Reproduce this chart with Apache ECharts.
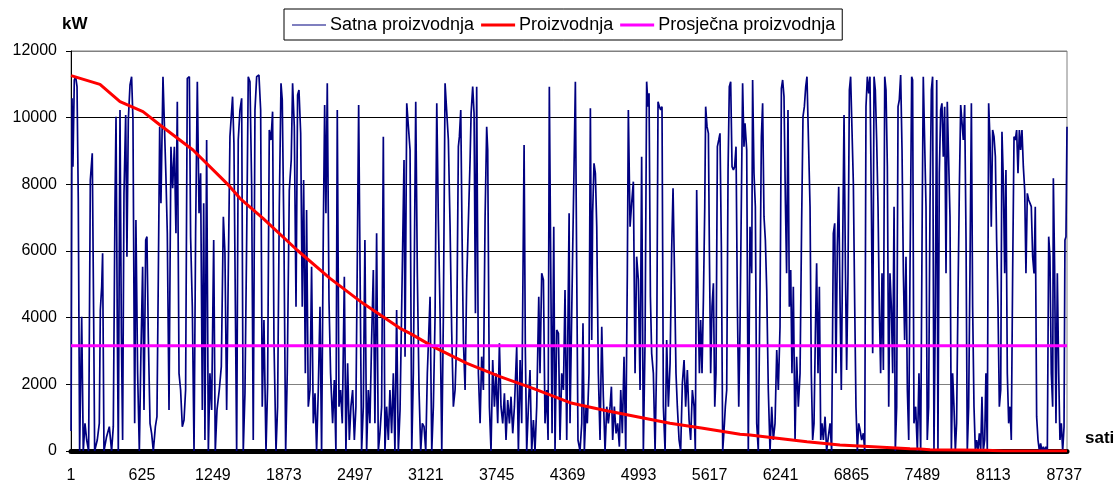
<!DOCTYPE html>
<html>
<head>
<meta charset="utf-8">
<script src="https://cdn.jsdelivr.net/npm/echarts@6/dist/echarts.min.js"></script>
<style>
html,body{margin:0;padding:0;background:#fff;}
#chart{width:1116px;height:484px;}
</style>
</head>
<body>
<div id="chart"></div>
<script>
// ---- DATA ----
const seriesNames = ['Satna proizvodnja', 'Proizvodnja', 'Prosječna proizvodnja'];
const hourTickLabels = ['1','625','1249','1873','2497','3121','3745','4369','4993','5617','6241','6865','7489','8113','8737'];

// Hourly production (kW), [hour, kW]
const satnaProizvodnja = [
[1,600],[9,10580],[17,8530],[29,11130],[41,11230],[53,10930],[64,7530],[76,0],[85,2130],[94,4030],[108,0],[123,830],[138,330],[155,0],[170,8130],[187,8930],[199,4130],[208,0],[231,330],[249,830],[258,4230],[270,4930],[278,5930],[290,0],[313,430],[337,730],[357,0],[372,730],[387,7430],[396,10030],[407,3830],[416,0],[431,10230],[443,3530],[454,330],[466,7730],[481,10080],[492,5830],[504,9930],[519,10980],[533,11230],[545,9930],[560,830],[571,6930],[586,2330],[601,0],[615,2930],[630,5530],[642,1230],[657,6330],[668,6430],[680,3430],[695,830],[709,530],[724,0],[742,730],[756,1030],[768,5230],[780,9730],[791,7430],[809,11230],[824,11230],[835,8230],[847,6530],[862,1230],[879,9130],[894,7880],[909,9130],[923,6530],[935,10480],[950,2330],[964,1830],[979,730],[994,930],[1008,1830],[1023,11180],[1041,11230],[1052,6430],[1067,4330],[1082,0],[1096,6530],[1111,11080],[1126,7130],[1140,8330],[1155,1230],[1167,7430],[1178,330],[1193,9330],[1208,0],[1222,2330],[1237,1230],[1255,6330],[1269,0],[1284,1230],[1304,1830],[1322,2530],[1340,7030],[1354,5930],[1369,1230],[1384,5530],
[1398,9430],[1421,10630],[1433,9230],[1457,0],[1471,9330],[1486,10230],[1501,10580],[1515,0],[1530,1730],[1545,6330],[1559,11230],[1574,11080],[1589,7930],[1603,330],[1618,10230],[1633,11230],[1653,11280],[1668,10230],[1682,1330],[1697,3930],[1715,0],[1729,1930],[1744,9630],[1759,9330],[1773,10180],[1785,3330],[1803,0],[1817,1330],[1832,7330],[1847,11030],[1858,10530],[1873,6330],[1888,0],[1902,2330],[1920,7830],[1937,8730],[1949,11030],[1964,9730],[1979,4330],[1993,10680],[2005,10830],[2020,9530],[2034,4330],[2046,8130],[2061,2330],[2072,7230],[2087,1330],[2102,1830],[2116,5530],[2131,830],[2146,1730],[2160,0],[2175,1830],[2190,4330],[2204,0],[2219,6530],[2231,10380],[2242,7130],[2254,11030],[2269,4530],[2283,2330],[2301,830],[2316,2130],[2330,0],[2342,10230],[2357,1330],[2371,1830],[2386,830],[2404,5230],[2418,0],[2433,2630],[2448,330],[2462,1330],[2477,1830],[2492,330],[2506,1330],[2518,5730],[2530,10380],[2541,10430],[2556,0],[2571,1330],[2585,6330],[2600,0],[2615,1830],[2629,830],[2644,3330],[2659,5430],[2673,830],[2688,6530],[2703,0],[2717,530],[2732,1330],[2747,9430],[2761,0],[2776,1330],[2791,330],[2805,1830],[2820,530],[2835,2330],[2849,0],[2864,4230],[2879,0],
[2894,1230],[2929,8730],[2938,2830],[2953,10430],[2967,10480],[2982,9030],[2997,0],[3011,2330],[3032,10480],[3046,5330],[3061,1830],[3076,0],[3090,830],[3105,730],[3120,0],[3134,2330],[3158,4630],[3173,0],[3187,1330],[3202,4030],[3217,10430],[3231,6930],[3246,4130],[3261,0],[3275,4030],[3290,11030],[3304,11030],[3319,9330],[3334,6730],[3348,3630],[3363,1330],[3378,1830],[3392,3330],[3407,9130],[3416,9430],[3428,10230],[3439,6630],[3451,3330],[3466,1830],[3480,5030],[3495,5030],[3510,8730],[3519,10130],[3533,10930],[3545,10130],[3557,4130],[3568,10930],[3583,2330],[3598,830],[3612,2830],[3627,1830],[3642,7030],[3656,9730],[3665,9030],[3680,1330],[3694,0],[3709,2730],[3724,1330],[3738,2330],[3753,830],[3768,3230],[3782,1330],[3797,830],[3812,1730],[3826,330],[3841,1530],[3856,830],[3870,1630],[3885,530],[3900,1330],[3920,3130],[3935,0],[3950,2730],[3964,830],[3985,9180],[3996,3030],[4008,0],[4023,1330],[4037,2430],[4052,0],[4067,930],[4081,0],[4096,1330],[4114,4630],[4125,2330],[4140,5330],[4155,5130],[4169,830],[4184,1830],[4196,330],[4207,10930],[4219,5730],[4231,530],[4246,6730],[4257,0],[4272,3630],[4287,3530],[4301,330],[4316,2330],[4331,1830],[4345,4830],[4360,330],[4381,7130],
[4389,830],[4412,5930],[4424,8430],[4436,11080],[4448,5330],[4459,330],[4477,0],[4492,830],[4503,3830],[4515,0],[4530,1330],[4541,830],[4556,2330],[4568,10280],[4580,3330],[4588,7130],[4600,8630],[4612,8330],[4624,6730],[4638,2330],[4653,330],[4668,3730],[4682,1630],[4697,0],[4712,1330],[4726,830],[4741,1330],[4753,1930],[4764,330],[4779,1330],[4794,530],[4808,830],[4823,130],[4835,1830],[4849,530],[4864,2830],[4879,0],[4893,5330],[4902,10230],[4917,6730],[4931,7430],[4946,8080],[4961,2330],[4975,5830],[4990,5130],[5005,1830],[5019,8830],[5034,0],[5049,3330],[5063,11080],[5075,10330],[5084,10730],[5096,4630],[5107,2930],[5122,2330],[5137,0],[5151,2730],[5163,10480],[5175,10330],[5187,10230],[5198,10330],[5210,1330],[5225,0],[5239,3330],[5254,1330],[5269,2630],[5283,6030],[5295,7880],[5307,5530],[5321,2330],[5333,1330],[5348,330],[5362,0],[5377,2030],[5392,2730],[5406,1330],[5421,2430],[5436,930],[5450,330],[5465,1830],[5480,1330],[5491,0],[5503,7830],[5515,4530],[5527,2330],[5538,3930],[5550,2330],[5562,4530],[5574,7330],[5582,10330],[5594,9730],[5606,9530],[5615,5930],[5626,2330],[5638,4330],[5650,5030],[5662,1330],[5673,2330],[5685,9130],[5697,9330],[5708,9530],[5720,6130],[5732,0],[5747,830],[5755,1330],[5767,1830],[5779,8430],[5790,10930],[5802,11080],[5814,8530],[5826,8430],[5837,8530],[5849,9130],[5861,4330],[5873,1330],
[5884,3630],[5907,11030],[5919,9130],[5928,9830],[5943,9030],[5957,0],[5972,6730],[5987,5330],[5995,11130],[6007,8330],[6019,7330],[6031,830],[6045,0],[6060,4930],[6072,9430],[6083,10430],[6095,7030],[6107,6330],[6119,4830],[6133,1830],[6148,0],[6163,1330],[6177,330],[6192,830],[6207,3030],[6221,1830],[6236,3730],[6248,10880],[6259,11130],[6271,10630],[6283,7530],[6294,5330],[6306,10230],[6318,4330],[6330,5430],[6341,2330],[6353,4930],[6368,330],[6382,2830],[6397,1330],[6412,2330],[6426,6830],[6438,10030],[6450,10330],[6462,10930],[6473,11230],[6488,11280],[6500,7330],[6511,2330],[6523,330],[6535,830],[6547,3530],[6558,5630],[6570,2330],[6582,4930],[6594,330],[6605,830],[6617,330],[6632,1030],[6646,0],[6661,430],[6676,830],[6690,0],[6705,6530],[6717,6830],[6728,2330],[6740,6130],[6752,7930],[6764,4430],[6775,1830],[6787,6130],[6799,10080],[6811,5530],[6822,2430],[6834,5330],[6846,10830],[6857,11230],[6869,11280],[6881,8030],[6893,4330],[6904,1330],[6916,0],[6928,830],[6940,630],[6954,330],[6969,530],[6981,0],[6992,10330],[7004,11230],[7016,10730],[7027,11230],[7039,7530],[7051,2930],[7063,11230],[7074,10830],[7086,9330],[7098,7330],[7110,4130],[7121,2330],[7133,5330],[7145,2430],[7157,11230],[7168,10830],[7180,8530],[7192,1330],[7203,5330],[7215,4330],[7227,2330],[7239,7330],[7250,0],[7262,1330],[7274,10330],[7285,10530],[7297,11280],[7309,9030],[7321,5330],[7332,3330],[7344,5830],[7356,1830],[7368,330],
[7379,5330],[7394,11230],[7402,11130],[7414,830],[7429,1330],[7444,0],[7458,2330],[7473,0],[7487,7330],[7496,11230],[7508,11230],[7520,7330],[7531,330],[7543,1330],[7555,7330],[7567,10830],[7578,11230],[7590,0],[7602,4330],[7614,11130],[7625,0],[7637,8330],[7649,10230],[7660,10430],[7672,8830],[7684,10330],[7696,5330],[7707,10480],[7719,10430],[7731,7030],[7743,0],[7754,2330],[7766,1330],[7778,0],[7789,830],[7801,4530],[7813,7830],[7825,10380],[7836,10380],[7848,9330],[7860,10380],[7872,6330],[7883,0],[7895,1330],[7907,5530],[7919,10430],[7930,4330],[7942,1330],[7954,0],[7965,330],[7977,0],[7989,530],[8001,0],[8012,1630],[8024,0],[8036,330],[8047,2330],[8059,0],[8071,10430],[8083,9330],[8094,6730],[8106,9630],[8118,9430],[8130,8830],[8141,6330],[8153,4330],[8165,1330],[8177,1830],[8188,9580],[8200,8130],[8212,5330],[8223,8430],[8235,2330],[8247,830],[8259,1330],[8270,330],[8282,5330],[8294,9430],[8305,9330],[8317,9630],[8329,8330],[8341,9630],[8352,9030],[8364,9630],[8376,8530],[8388,7830],[8399,5330],[8411,7730],[8423,7530],[8435,7430],[8446,7330],[8458,5830],[8470,5330],[8481,7330],[8493,1030],[8505,330],[8517,0],[8528,230],[8540,0],[8552,130],[8563,0],[8575,130],[8587,0],[8599,6430],[8610,5830],[8622,2330],[8634,1330],[8640,8180],[8651,5530],[8663,830],[8675,5330],[8687,2330],[8698,330],[8710,830],[8722,0],[8734,730],[8742,6330],[8751,6430],[8760,9730]
];

// Duration curve (sorted production), [hour, kW]
const proizvodnja = [
[1,11260],[255,11000],[431,10480],[633,10180],[783,9780],[1073,9030],[1310,8230],[1398,7930],[1486,7580],[1689,6980],[1988,6030],[2278,5180],[2568,4430],[2894,3680],[2982,3530],[3184,3130],[3483,2630],[3773,2230],[4063,1880],[4389,1450],[4477,1380],[4679,1230],[4978,1030],[5268,830],[5558,680],[5884,500],[5972,480],[6174,400],[6473,280],[6763,180],[7054,130],[7379,70],[7467,60],[7555,40],[8056,20],[8200,0],[8760,0]
];

// Average production (kW)
const prosjecnaProizvodnja = 3160;
const hoursInYear = 8760;

// ---- CHART ----
const FONT = "'Liberation Sans', Arial, sans-serif";
const chart = echarts.init(document.getElementById('chart'), null, {renderer: 'canvas'});
chart.setOption({
  animation: false,
  backgroundColor: '#ffffff',
  textStyle: {fontFamily: FONT, color: '#000'},
  grid: {left: 71, right: 49, top: 51, bottom: 33, show: true, borderColor: '#808080', borderWidth: 1, containLabel: false},
  legend: {
    left: 284, top: 9,
    padding: [7, 7, 6, 8],
    borderColor: '#000', borderWidth: 1,
    itemWidth: 34, itemHeight: 14, itemGap: 7,
    textStyle: {fontFamily: FONT, fontSize: 18, color: '#000', padding: [0, 0, 0, -1]},
    data: [
      {name: seriesNames[0], icon: 'path://M0,0H34V1H0Z'},
      {name: seriesNames[1], icon: 'path://M0,0H34V3H0Z'},
      {name: seriesNames[2], icon: 'path://M0,0H34V3H0Z'}
    ]
  },
  xAxis: {
    type: 'value', min: 0, max: hoursInYear, interval: 624,
    offset: 4,
    axisLine: {show: true, lineStyle: {color: '#000', width: 5}},
    axisTick: {show: false},
    splitLine: {show: false},
    axisLabel: {
      fontFamily: FONT, fontSize: 16, color: '#000', margin: 13,
      showMaxLabel: false,
      formatter: function (v) {
        const i = Math.round(v / 624);
        return (v % 624 === 0 && i < hourTickLabels.length) ? hourTickLabels[i] : '';
      }
    }
  },
  yAxis: {
    type: 'value', min: 0, max: 12000, interval: 2000,
    axisLine: {show: true, lineStyle: {color: '#000', width: 1}},
    axisTick: {show: true, length: 5, lineStyle: {color: '#000'}},
    splitLine: {show: true, lineStyle: {color: ['#000', '#808080', '#000', '#000', '#000', '#000', '#808080'], width: 1}},
    axisLabel: {fontFamily: FONT, fontSize: 16, color: '#000', margin: 14, formatter: v => String(v)}
  },
  graphic: [
    {type: 'text', left: 62, top: 16, style: {text: 'kW', font: "bold 17px " + FONT, fill: '#000'}},
    {type: 'text', left: 1085, top: 430, style: {text: 'sati', font: "bold 17px " + FONT, fill: '#000'}}
  ],
  series: [
    {
      name: seriesNames[0], type: 'line', data: satnaProizvodnja,
      showSymbol: false, symbol: 'none', sampling: null,
      lineStyle: {color: '#000080', width: 1.7}, itemStyle: {color: '#000080'},
      z: 2
    },
    {
      name: seriesNames[1], type: 'line', data: proizvodnja,
      showSymbol: false, symbol: 'none',
      lineStyle: {color: '#ff0000', width: 3}, itemStyle: {color: '#ff0000'},
      z: 3
    },
    {
      name: seriesNames[2], type: 'line',
      data: [[0, prosjecnaProizvodnja], [hoursInYear, prosjecnaProizvodnja]],
      showSymbol: false, symbol: 'none',
      lineStyle: {color: '#ff00ff', width: 3}, itemStyle: {color: '#ff00ff'},
      z: 4
    }
  ]
});
</script>
</body>
</html>
